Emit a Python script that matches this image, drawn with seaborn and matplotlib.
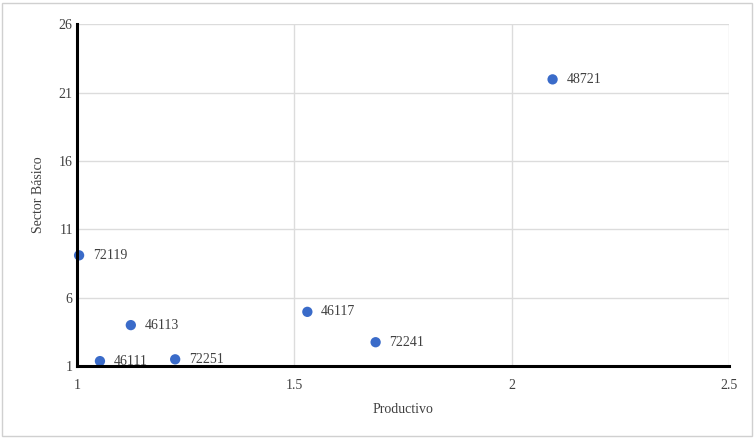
import pandas as pd
import seaborn as sns
from matplotlib import pyplot as plt
from matplotlib.patches import Rectangle

sns.set_style('whitegrid')
plt.rcParams['font.family'] = ['Liberation Serif', 'DejaVu Serif']

# data
codes = ['48721', '72119', '46113', '46117', '72241', '46111', '72251']
productivo = [2.094, 1.005, 1.124, 1.530, 1.687, 1.053, 1.226]
sector_basico = [21.96, 9.1, 4.0, 4.97, 2.75, 1.37, 1.5]

data = pd.DataFrame({'code': codes, 'Productivo': productivo, 'Sector Básico': sector_basico})

fig = plt.figure(figsize=(7.54, 4.38), dpi=100)
ax = fig.add_axes([0.102, 0.164, 0.865, 0.781])
sns.scatterplot(data=data, x='Productivo', y='Sector Básico', ax=ax,
                color='#3a6bc9', s=55, edgecolor='none', zorder=3, clip_on=False)

for _, row in data.iterrows():
    ax.annotate(row['code'], (row['Productivo'], row['Sector Básico']),
                xytext=(10, 0), textcoords='offset points', va='center',
                fontsize=10, color='#404040')

ax.set_xlim(1, 2.5)
ax.set_ylim(1, 26)
ax.set_xticks([1, 1.5, 2, 2.5])
ax.set_xticklabels(['1', '1.5', '2', '2.5'])
ax.set_yticks([1, 6, 11, 16, 21, 26])
ax.grid(True, color='#dcdcdc', linewidth=1)
ax.tick_params(axis='x', length=0, labelsize=10, labelcolor='#404040', pad=9)
ax.tick_params(axis='y', length=0, labelsize=10, labelcolor='#404040', pad=3)
ax.set_xlabel('Productivo', fontsize=10, color='#404040', labelpad=8)
ax.set_ylabel('Sector Básico', fontsize=10, color='#404040', labelpad=10)

for side in ['top', 'right']:
    ax.spines[side].set_visible(False)
for side in ['left', 'bottom']:
    ax.spines[side].set_color('black')
    ax.spines[side].set_linewidth(2.2)
    ax.spines[side].set_zorder(4)

fig.patches.append(Rectangle((0.003, 0.005), 0.994, 0.988, transform=fig.transFigure,
                             fill=False, edgecolor='#d0d0d0', linewidth=1))

fig.savefig('out.png', dpi=100)
